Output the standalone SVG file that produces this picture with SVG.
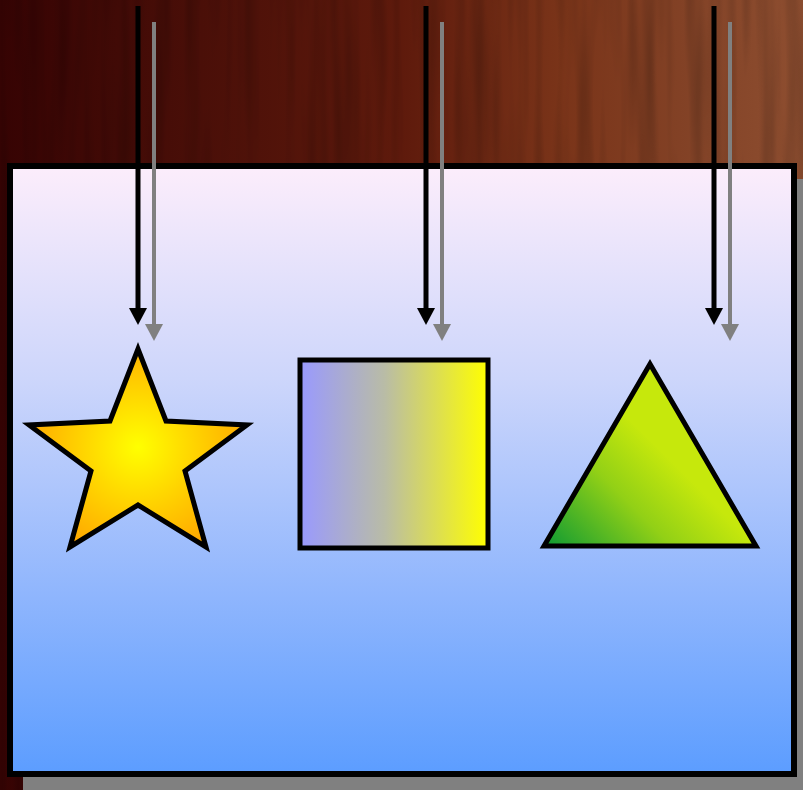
<svg xmlns="http://www.w3.org/2000/svg" width="803" height="790" viewBox="0 0 803 790">
  <defs>
    <linearGradient id="wood" x1="0" y1="0" x2="803" y2="0" gradientUnits="userSpaceOnUse">
      <stop offset="0" stop-color="#360303"/>
      <stop offset="0.25" stop-color="#4a0f08"/>
      <stop offset="0.5" stop-color="#5e1a0c"/>
      <stop offset="0.7" stop-color="#7a3419"/>
      <stop offset="0.88" stop-color="#844428"/>
      <stop offset="1" stop-color="#8e4e30"/>
    </linearGradient>
    <filter id="grain" x="0" y="0" width="1" height="1">
      <feTurbulence type="fractalNoise" baseFrequency="0.07 0.004" numOctaves="2" seed="3" result="n"/>
      <feColorMatrix in="n" type="matrix" values="0 0 0 0 0  0 0 0 0 0  0 0 0 0 0  0.4 0 0 0 -0.16"/>
      <feComposite in2="SourceGraphic" operator="in"/>
    </filter>
    <linearGradient id="bg" x1="0" y1="166" x2="0" y2="774" gradientUnits="userSpaceOnUse">
      <stop offset="0" stop-color="#fcedfb"/>
      <stop offset="0.35" stop-color="#cdd6fb"/>
      <stop offset="0.7" stop-color="#90b6fd"/>
      <stop offset="1" stop-color="#5c9dff"/>
    </linearGradient>
    <radialGradient id="starG" cx="138" cy="447" r="112" gradientUnits="userSpaceOnUse">
      <stop offset="0" stop-color="#ffff00"/>
      <stop offset="1" stop-color="#ffa900"/>
    </radialGradient>
    <linearGradient id="sqG" x1="300" y1="0" x2="488" y2="0" gradientUnits="userSpaceOnUse">
      <stop offset="0" stop-color="#9999ff"/>
      <stop offset="0.45" stop-color="#b9bca6"/>
      <stop offset="1" stop-color="#ffff00"/>
    </linearGradient>
    <linearGradient id="triG" x1="545" y1="546" x2="650" y2="440" gradientUnits="userSpaceOnUse">
      <stop offset="0" stop-color="#0e9a33"/>
      <stop offset="0.6" stop-color="#92d016"/>
      <stop offset="1" stop-color="#c6e80c"/>
    </linearGradient>
    <marker id="headK" markerWidth="18" markerHeight="18" viewBox="0 0 18 18" refX="0" refY="9" orient="auto" markerUnits="userSpaceOnUse">
      <path d="M0,0 L17,9 L0,18 Z" fill="#000"/>
    </marker>
    <marker id="headG" markerWidth="18" markerHeight="18" viewBox="0 0 18 18" refX="0" refY="9" orient="auto" markerUnits="userSpaceOnUse">
      <path d="M0,0 L17,9 L0,18 Z" fill="#808080"/>
    </marker>
  </defs>
  <style>
    .shape { stroke: #000; stroke-width: 5; stroke-linejoin: miter; }
    .arrK { stroke: #000; stroke-width: 5; fill: none; marker-end: url(#headK); }
    .arrG { stroke: #808080; stroke-width: 4; fill: none; marker-end: url(#headG); }
  </style>

  <g id="background">
    <rect x="0" y="0" width="803" height="790" fill="url(#wood)"/>
    <rect x="0" y="0" width="803" height="790" fill="#000" filter="url(#grain)"/>
  </g>

  <g id="panel">
    <rect x="23" y="179" width="800" height="620" fill="#808080"/>
    <rect x="10" y="166" width="784" height="608" fill="url(#bg)" stroke="#000" stroke-width="6"/>
  </g>

  <g id="star">
    <path class="shape" fill="url(#starG)" d="M138,349 L166,421 L247,425 L185,471 L206,547 L138,505 L70,547 L91,471 L29,425 L110,421 Z"/>
  </g>

  <g id="square">
    <rect class="shape" x="300" y="360" width="188" height="188" fill="url(#sqG)" stroke-width="4.5"/>
  </g>

  <g id="triangle">
    <path class="shape" fill="url(#triG)" d="M650,364 L756,546 L544,546 Z"/>
  </g>

  <g id="connectors">
    <line class="arrG" x1="154" y1="22" x2="154" y2="324"/>
    <line class="arrG" x1="442" y1="22" x2="442" y2="324"/>
    <line class="arrG" x1="730" y1="22" x2="730" y2="324"/>
    <line class="arrK" x1="138" y1="6" x2="138" y2="308"/>
    <line class="arrK" x1="426" y1="6" x2="426" y2="308"/>
    <line class="arrK" x1="714" y1="6" x2="714" y2="308"/>
  </g>
</svg>
